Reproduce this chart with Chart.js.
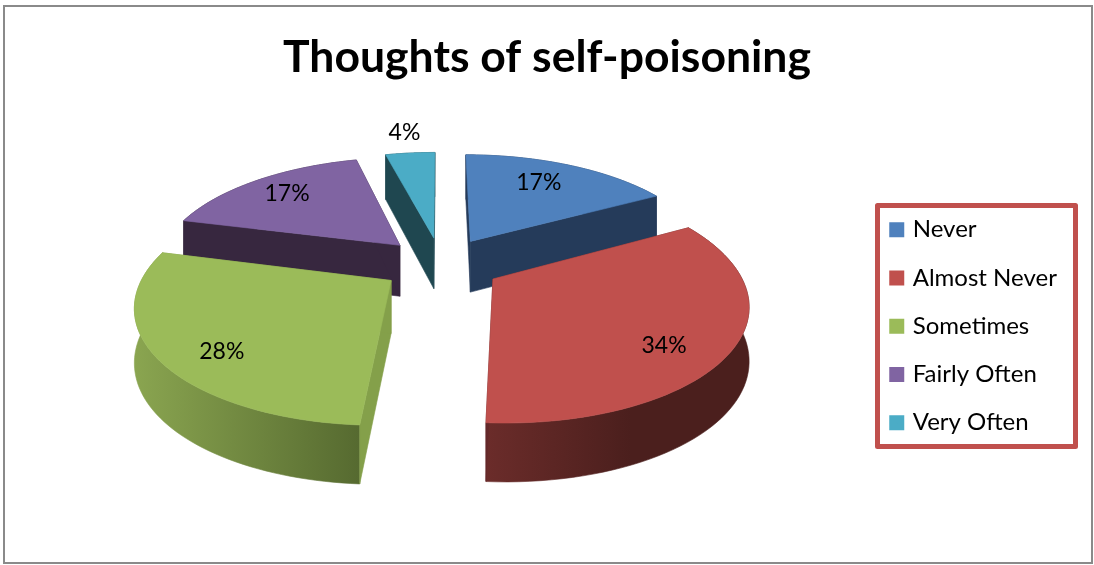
<!DOCTYPE html>
<html><head><meta charset="utf-8">
<style>html,body{margin:0;padding:0;background:#fff}canvas{display:block}</style>
<script src="https://cdn.jsdelivr.net/npm/chart.js@4"></script>
</head><body><canvas id="c" width="1094" height="565"></canvas>
<script>
const categories = ["Never","Almost Never","Sometimes","Fairly Often","Very Often"];
const percentages = [17,34,28,17,4];
const topColors = ["#4F81BD","#C0504D","#9BBB59","#8064A2","#4BACC6"];
const wallColors = ["#253B5A","#64292A","#84A04A","#37273F","#1F4750"];
const rimLeft = ["#253B5A","#6B2C2A","#8AA550","#37273F","#1F4750"];
const rimRight = ["#253B5A","#4B1F1D","#566A30","#37273F","#1F4750"];
const labelRadial = [0.73,0.79,0.80,0.77,1.30];
const labelTurn = [-0.047,0.148,-0.122,0,0];
const view = {cx:441, cy:264, f:1293, k:0.455, depth:52, depthSlope:0.025};

function project(u,v,drop){
  const s = 1/(1-v/view.f);
  return [view.cx+u*s, view.cy+view.k*v*s+(drop?view.depth+v*view.depthSlope:0)];
}
function poly(ctx,pts,fill){
  ctx.beginPath();pts.forEach((p,i)=>i?ctx.lineTo(p[0],p[1]):ctx.moveTo(p[0],p[1]));
  ctx.closePath();ctx.fillStyle=fill;ctx.fill();
  ctx.strokeStyle=fill;ctx.lineWidth=0.6;ctx.stroke();
}
const pie3d = {
  id:'pie3d',
  beforeDraw(chart){
    const ctx=chart.ctx;ctx.save();
    ctx.fillStyle='#fff';ctx.fillRect(0,0,chart.width,chart.height);
    ctx.strokeStyle='#8a8a8a';ctx.lineWidth=2;ctx.strokeRect(4,6,1088,557);
    ctx.restore();
  },
  afterLayout(chart){
    const l=chart.legend;
    l.left=868.5;l.right=1080;l.top=193.5;l.bottom=560;
  },
  beforeDatasetsDraw(chart){
    const ctx=chart.ctx, arcs=chart.getDatasetMeta(0).data;
    const order=arcs.map((a,i)=>i).sort((p,q)=>{
      const m=i=>Math.sin((arcs[i].startAngle+arcs[i].endAngle)/2);
      return m(p)-m(q);
    });
    ctx.save();
    order.forEach(i=>{
      const a=arcs[i], mid=(a.startAngle+a.endAngle)/2, off=a.options.offset, R=a.outerRadius;
      const ox=Math.cos(mid)*off, oy=Math.sin(mid)*off;
      const rim=[];const n=60;
      for(let t=0;t<=n;t++){
        const ang=a.startAngle+(a.endAngle-a.startAngle)*t/n;
        rim.push([ox+R*Math.cos(ang),oy+R*Math.sin(ang)]);
      }
      const top=rim.map(p=>project(p[0],p[1],false));
      const low=rim.map(p=>project(p[0],p[1],true));
      const tipT=project(ox,oy,false), tipB=project(ox,oy,true);
      const xs=low.map(p=>p[0]);
      const g=ctx.createLinearGradient(Math.min(...xs),0,Math.max(...xs),0);
      g.addColorStop(0,rimLeft[i]);
      if(i===1){ g.addColorStop(0.55,rimRight[i]); }
      g.addColorStop(1,rimRight[i]);
      poly(ctx,top.concat(low.slice().reverse()),g);
      poly(ctx,[tipT,top[0],low[0],tipB],wallColors[i]);
      poly(ctx,[tipT,top[n],low[n],tipB],wallColors[i]);
      poly(ctx,[tipT].concat(top),topColors[i]);
    });
    ctx.fillStyle='#000';ctx.font='23px Lato';ctx.textAlign='center';ctx.textBaseline='middle';
    arcs.forEach((a,i)=>{
      const m0=(a.startAngle+a.endAngle)/2, mid=m0+labelTurn[i], off=a.options.offset, R=a.outerRadius;
      const p=project(Math.cos(m0)*off+Math.cos(mid)*R*labelRadial[i],Math.sin(m0)*off+Math.sin(mid)*R*labelRadial[i],false);
      ctx.fillText(percentages[i]+'%',p[0],p[1]);
    });
    ctx.restore();
    return false;
  },
  afterDraw(chart){
    const ctx=chart.ctx;ctx.save();
    ctx.strokeStyle='#C0504D';ctx.lineWidth=5;ctx.lineJoin='round';
    ctx.strokeRect(877.5,205.5,198,241);
    ctx.restore();
  }
};
new Chart(document.getElementById('c'),{
  type:'pie',
  data:{labels:categories,datasets:[{data:percentages,backgroundColor:topColors,offset:60,radius:243,borderWidth:0}]},
  options:{
    responsive:false,animation:false,rotation:0,
    layout:{padding:0},
    plugins:{
      tooltip:{enabled:false},
      title:{display:true,text:"Thoughts of self-poisoning",color:'#000',font:{family:'Lato',size:44.5,weight:'bold'},padding:{top:31,bottom:10}},
      legend:{display:true,position:'right',align:'start',labels:{
        boxWidth:8,boxHeight:8,padding:24.25,color:'#000',font:{family:'Lato',size:24},
        generateLabels:()=>categories.map((t,i)=>({text:t,fillStyle:topColors[i],strokeStyle:topColors[i],lineWidth:7,index:i,hidden:false}))
      }}
    }
  },
  plugins:[pie3d]
});
</script></body></html>
